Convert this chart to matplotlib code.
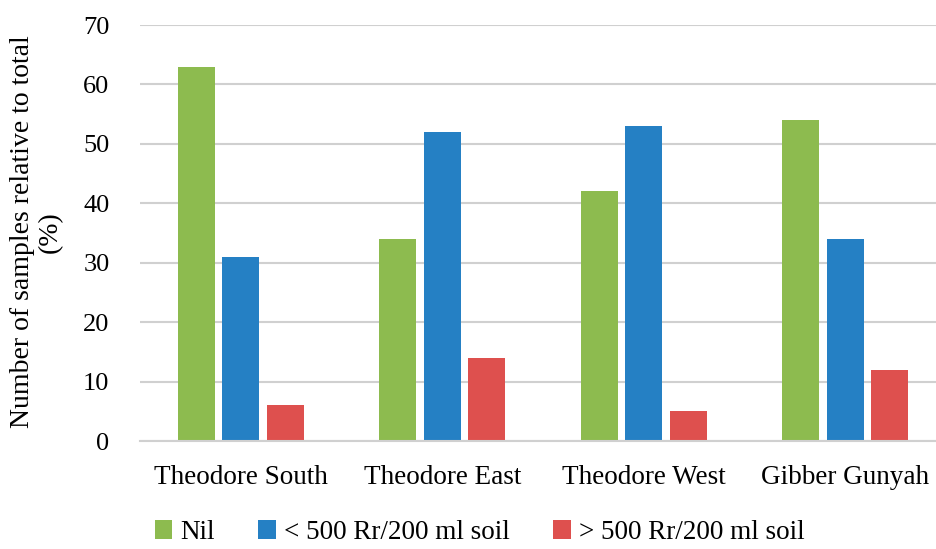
import matplotlib.pyplot as plt
import numpy as np

sites = ["Theodore South", "Theodore East", "Theodore West", "Gibber Gunyah"]
nil = [63, 34, 42, 54]
below_500 = [31, 52, 53, 34]
above_500 = [6, 14, 5, 12]
series_names = ["Nil", "< 500 Rr/200 ml soil", "> 500 Rr/200 ml soil"]
colors = ["#8DBB4F", "#2580C4", "#DE504E"]

plt.rcParams['font.family'] = ['Liberation Serif', 'DejaVu Serif']

fig = plt.figure(figsize=(9.37, 5.49), dpi=100)
ax = fig.add_axes([140 / 937, 1 - 441 / 549, 806 / 937, 416 / 549])

x = np.arange(len(sites))
width = 0.184
step = 0.221
for i, (vals, name, c) in enumerate(zip([nil, below_500, above_500], series_names, colors)):
    ax.bar(x + (i - 1) * step, vals, width, color=c, label=name, zorder=3)

ax.set_xlim(-0.5, len(sites) - 0.5)
ax.set_ylim(0, 70)
ax.set_yticks(range(0, 71, 10))
ax.set_xticks(x)
ax.set_xticklabels(sites, fontsize=19.5)
ax.tick_params(axis='y', labelsize=19, length=0, pad=22)
ax.tick_params(axis='x', length=0, pad=17)
ax.grid(axis='y', color='#D0D0D0', linewidth=1.5, zorder=0)
for s in ['top', 'right', 'left']:
    ax.spines[s].set_visible(False)
ax.spines['bottom'].set_color('#D0D0D0')
ax.spines['bottom'].set_linewidth(1.5)
ax.spines['bottom'].set_zorder(4)

fig.text(0.039, 1 - 232 / 549, "Number of samples relative to total\n(%)", rotation=90,
         ha='center', va='center', fontsize=20, multialignment='center', linespacing=1.15)

fig.legend(loc='center', bbox_to_anchor=(0.512, 0.03), ncol=3, frameon=False,
           fontsize=19.5, handlelength=0.65, handleheight=0.65, handletextpad=0.3,
           columnspacing=1.6, borderaxespad=0)

fig.savefig("out.png", dpi=100)
